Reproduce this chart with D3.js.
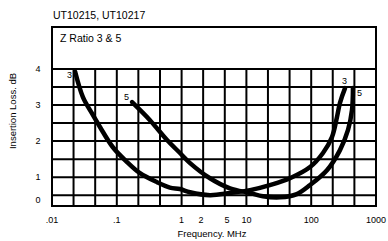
<!DOCTYPE html>
<html>
<head>
<meta charset="utf-8">
<script src="https://cdn.jsdelivr.net/npm/d3@7"></script>
<style>
    body { margin: 0; background: #fff; }
    text { font-family: "Liberation Sans", Arial, sans-serif; fill: #000; }
</style>
</head>
<body>
<div id="chart"></div>
<script>
// Chart values
const chartTitle = "UT10215, UT10217";
const boxTitle = "Z Ratio 3 & 5";
const xTickValues = [0.01, 0.1, 1, 2, 5, 10, 100, 1000];
const xTickLabels = [".01", ".1", "1", "2", "5", "10", "100", "1000"];
const yTickValues = [4, 3, 2, 1, 0.38];
const yTickLabels = ["4", "3", "2", "1", "0"];
const gridCols = [0.01, 0.0215, 0.0464, 0.1, 0.215, 0.464, 1, 2.15, 4.64, 10, 21.5, 46.4, 100, 215, 464, 1000];
const gridRows = [0.5, 1, 1.5, 2, 2.5, 3, 3.5, 4];

// Z ratio 3
const freq3 = [0.0227, 0.030, 0.041, 0.055, 0.087, 0.144, 0.228, 0.417, 0.66, 0.94, 1.35, 2.74, 5.6, 11.4, 23, 47, 96, 152, 209, 250, 278, 333];
const loss3 = [3.93, 3.22, 2.78, 2.39, 1.83, 1.42, 1.11, 0.86, 0.71, 0.67, 0.58, 0.50, 0.56, 0.64, 0.78, 0.97, 1.28, 1.67, 2.11, 2.67, 3.06, 3.47];
// Z ratio 5
const freq5 = [0.172, 0.325, 0.596, 0.944, 1.35, 2.74, 5.58, 11.4, 18, 33, 60, 96, 175, 278, 370, 426, 441];
const loss5 = [3.08, 2.58, 2.03, 1.67, 1.39, 0.97, 0.69, 0.56, 0.47, 0.44, 0.53, 0.78, 1.19, 1.75, 2.31, 2.86, 3.47];

const W = 388, H = 241;
const plotL = 52, plotR = 376, boxT = 27, gridT = 69, plotB = 206;

const svg = d3.select("#chart")
    .append("svg")
    .attr("width", W)
    .attr("height", H);

const xs = d3.scaleLog().domain([0.01, 1000]).range([plotL, plotR]);
const ys = d3.scaleLinear().domain([0.2, 4]).range([plotB, gridT]);

// Grid columns and rows
const gridG = svg.append("g").attr("class", "grid");
gridCols.forEach((v) => {
    gridG.append("path")
        .attr("d", `M${xs(v)},${gridT}V${plotB}`)
        .attr("stroke", "#000")
        .attr("stroke-width", 2)
        .attr("fill", "none");
});
gridRows.forEach((v) => {
    gridG.append("path")
        .attr("d", `M${plotL},${ys(v)}H${plotR}`)
        .attr("stroke", "#000")
        .attr("stroke-width", 2)
        .attr("fill", "none");
});

// Curves
const line = d3.line()
    .x((d) => xs(d[0]))
    .y((d) => ys(d[1]))
    .curve(d3.curveCatmullRom.alpha(0.5));

const series = [
    { name: "3", pts: d3.zip(freq3, loss3) },
    { name: "5", pts: d3.zip(freq5, loss5) },
];

series.forEach((s) => {
    svg.append("path")
        .datum(s.pts)
        .attr("fill", "none")
        .attr("stroke", "#000")
        .attr("stroke-width", 4.5)
        .attr("stroke-linecap", "round")
        .attr("d", line);
});

// Outer box with the title panel on top
svg.append("rect")
    .attr("x", plotL)
    .attr("y", boxT)
    .attr("width", plotR - plotL)
    .attr("height", plotB - boxT)
    .attr("fill", "none")
    .attr("stroke", "#000")
    .attr("stroke-width", 2);

svg.append("text")
    .attr("x", 53)
    .attr("y", 19)
    .attr("font-size", 10.5)
    .text(chartTitle);

svg.append("text")
    .attr("x", 60)
    .attr("y", 42)
    .attr("font-size", 10.5)
    .text(boxTitle);

// Curve labels at both ends
const p3a = series[0].pts[0], p3b = series[0].pts[series[0].pts.length - 1];
const p5a = series[1].pts[0], p5b = series[1].pts[series[1].pts.length - 1];
const labels = [
    { t: "3", px: xs(p3a[0]) - 8, py: ys(p3a[1]) + 6 },
    { t: "5", px: xs(p5a[0]) - 8, py: ys(p5a[1]) - 2 },
    { t: "3", px: xs(p3b[0]) - 3, py: ys(p3b[1]) - 4 },
    { t: "5", px: xs(p5b[0]) + 4, py: ys(p5b[1]) + 8 },
];
svg.append("g")
    .selectAll("text")
    .data(labels)
    .join("text")
    .attr("x", (d) => d.px)
    .attr("y", (d) => d.py)
    .attr("font-size", 9)
    .attr("fill", "#333")
    .text((d) => d.t);

// Axis tick labels
svg.append("g")
    .selectAll("text")
    .data(xTickValues)
    .join("text")
    .attr("x", (d) => xs(d))
    .attr("y", 223)
    .attr("text-anchor", "middle")
    .attr("font-size", 9)
    .text((d, i) => xTickLabels[i]);

svg.append("g")
    .selectAll("text")
    .data(yTickValues)
    .join("text")
    .attr("x", 38)
    .attr("y", (d) => ys(d) + 3)
    .attr("text-anchor", "middle")
    .attr("font-size", 9)
    .text((d, i) => yTickLabels[i]);

// Axis titles
svg.append("text")
    .attr("x", 212)
    .attr("y", 237)
    .attr("text-anchor", "middle")
    .attr("font-size", 9.5)
    .text("Frequency. MHz");

svg.append("text")
    .attr("transform", "translate(16,111) rotate(-90)")
    .attr("text-anchor", "middle")
    .attr("font-size", 9.5)
    .text("Insertion Loss. dB");
</script>
</body>
</html>
